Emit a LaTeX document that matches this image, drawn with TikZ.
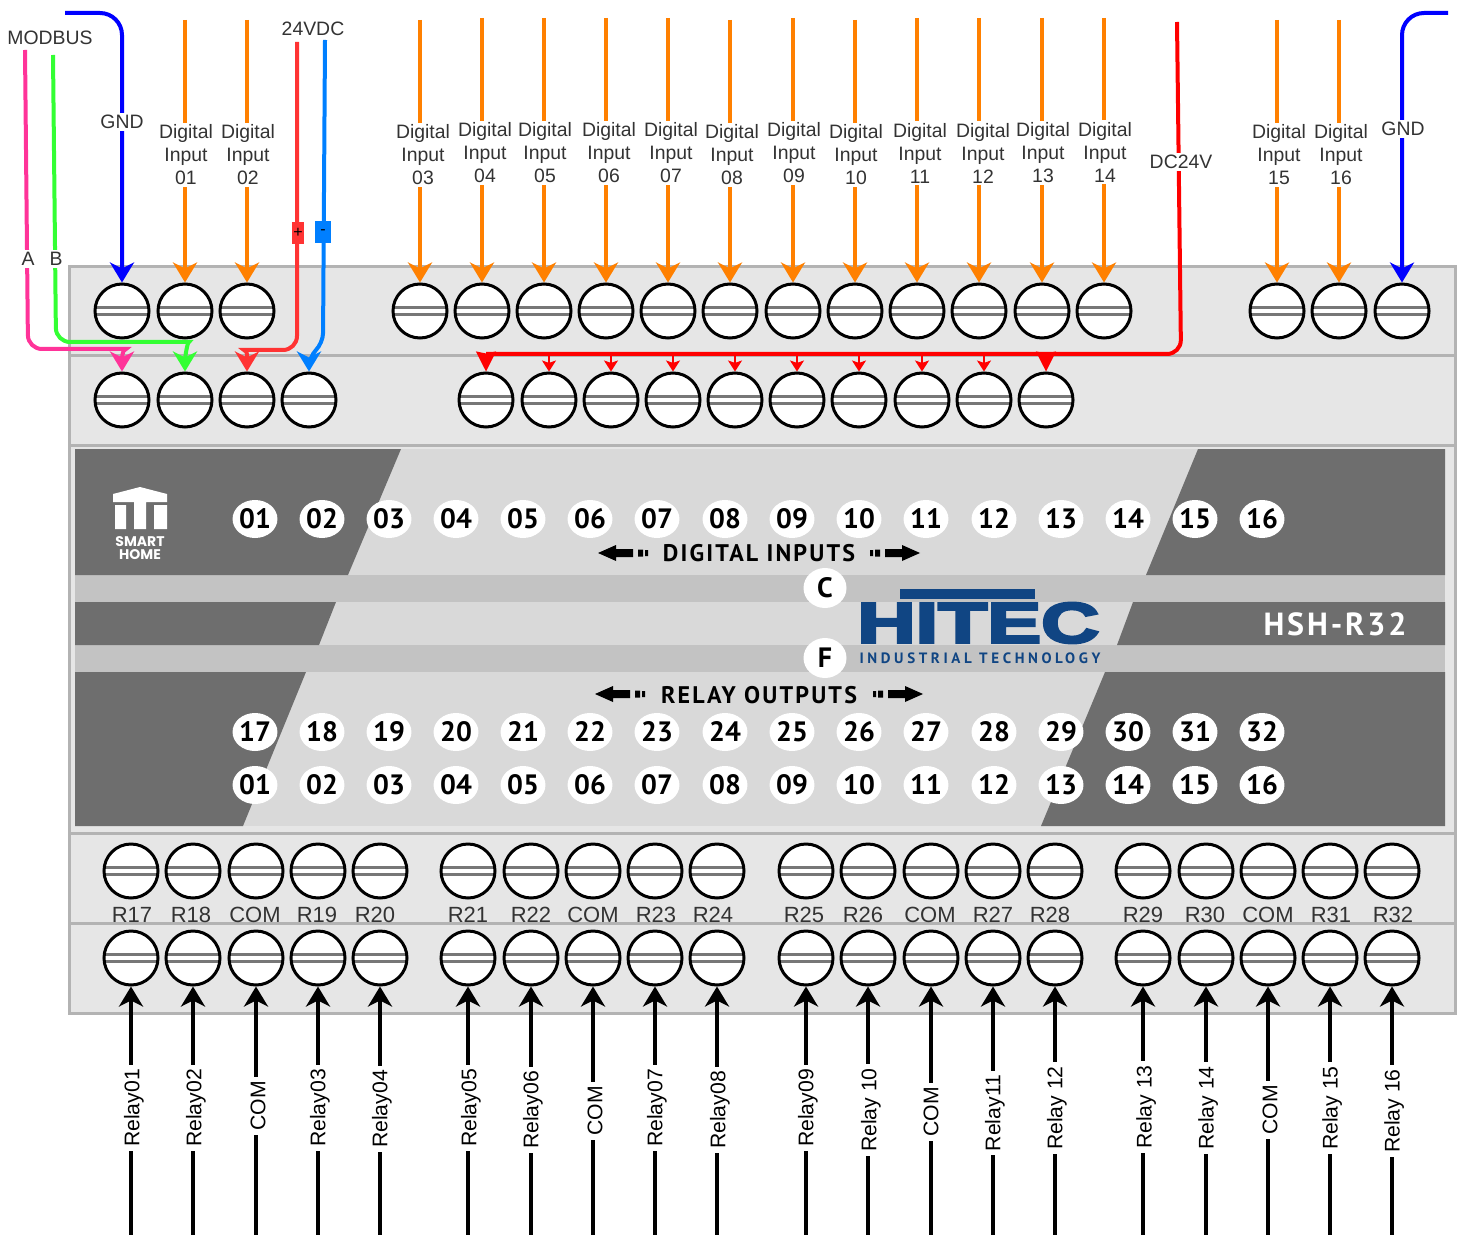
\documentclass[tikz,border=0pt]{standalone}
\usepackage{fontspec}
\setmainfont{Liberation Sans}
\newfontfamily\panelfont{PT Sans}
\newfontfamily\widefont[LetterSpace=9]{PT Sans}
\newfontfamily\subfont[LetterSpace=24]{PT Sans}
\newfontfamily\markfont{Poppins}
\newfontfamily\logofont[FakeBold=4]{Liberation Sans}
\usetikzlibrary{arrows.meta,shapes.geometric}
\definecolor{bandfill}{HTML}{E6E6E6}
\definecolor{bandline}{HTML}{B3B3B3}
\definecolor{panellight}{HTML}{D9D9D9}
\definecolor{paneldark}{HTML}{6E6E6E}
\definecolor{panelstrip}{HTML}{C3C3C3}
\definecolor{labelgray}{HTML}{333333}
\definecolor{slotgray}{HTML}{777777}
\definecolor{wireorange}{HTML}{FF8000}
\definecolor{wirepink}{HTML}{FF3399}
\definecolor{wiregreen}{HTML}{33FF33}
\definecolor{wirered}{HTML}{FF3333}
\definecolor{wireblue}{HTML}{007FFF}
\definecolor{logoblue}{HTML}{104583}
\tikzset{
  band/.style={draw=bandline,fill=bandfill,line width=1.5pt},
  screwnode/.style={circle,draw=black,fill=white,line width=1.5pt,minimum size=27pt,inner sep=0pt,
    path picture={
      \draw[slotgray,line width=1.2pt] ([yshift=1.8pt]path picture bounding box.west) -- ([yshift=1.8pt]path picture bounding box.east);
      \draw[slotgray,line width=1.2pt] ([yshift=-1.8pt]path picture bounding box.west) -- ([yshift=-1.8pt]path picture bounding box.east);
    }},
  numdot/.style={ellipse,fill=white,text=black,minimum width=21pt,minimum height=19pt,inner sep=0pt,text height=9.6pt,text depth=0pt,font=\panelfont\fontsize{14}{15}\selectfont\bfseries},
  wire/.style={line width=2pt,-{Stealth[length=10pt,width=12pt,inset=3pt]}},
  smalltip/.style={line width=0.7pt,-{Stealth[length=5.5pt,width=7pt,inset=1.2pt]}},
  bigtip/.style={line width=0.7pt,-{Stealth[length=10pt,width=10pt,inset=1pt]}},
  wirelabel/.style={fill=white,text=labelgray,align=center,inner sep=1pt,yshift=-0.5pt,font=\fontsize{9.7}{11.5}\selectfont},
  relaylabel/.style={fill=white,text=black,rotate=90,inner xsep=2pt,inner ysep=0.5pt,font=\fontsize{10.6}{11}\selectfont},
  termlabel/.style={text=labelgray,inner sep=0pt,font=\fontsize{11}{12}\selectfont},
}
\newcommand{\panelarrow}[3]{
  \fill[shift={(#1,#2)},xscale=#3,black] (0,0) -- (18,-8) -- (18,-4) -- (35,-4) -- (35,4) -- (18,4) -- (18,8) -- cycle
    (40,-3.5) rectangle (45,3.5) (47,-3) rectangle (50,3);
}
\begin{document}
\begin{tikzpicture}[x=0.5pt,y=-0.5pt]
  \useasboundingbox (0,0) rectangle (1460,1235);
  % housing
  \draw[band] (69,267) rectangle (1455,356);
  \draw[band] (69,356) rectangle (1455,445);
  \draw[band] (69,445) rectangle (1455,833);
  \draw[band] (69,833) rectangle (1455,923);
  \draw[band] (69,923) rectangle (1455,1013);
  % front panel
  \fill[panellight] (75,449) rectangle (1445,826);
  \fill[panelstrip] (75,575) rectangle (1445,602);
  \fill[panelstrip] (75,645) rectangle (1445,672);
  \fill[paneldark] (75,449) -- (401,449) -- (348,575) -- (75,575) -- cycle;
  \fill[paneldark] (1198,449) -- (1445,449) -- (1445,575) -- (1146,575) -- cycle;
  \fill[paneldark] (75,602) -- (336,602) -- (319,645) -- (75,645) -- cycle;
  \fill[paneldark] (1133,602) -- (1445,602) -- (1445,645) -- (1117,645) -- cycle;
  \fill[paneldark] (75,672) -- (306,672) -- (243,826) -- (75,826) -- cycle;
  \fill[paneldark] (1105,672) -- (1445,672) -- (1445,826) -- (1041,826) -- cycle;
  % smart home mark
  \fill[white] (113,494) -- (140,487) -- (167,494) -- (167,502) -- (146,502) -- (146,529) -- (134,529) -- (134,502) -- (113,502) -- cycle;
  \fill[white] (115,505) rectangle (126,529) (154,505) rectangle (167,529);
  \node[text=white,align=center,inner sep=0pt,font=\markfont\fontsize{7}{6.6}\selectfont\bfseries] (smarthome) at (140,548) {SMART\\HOME};
  % numbers
  \foreach \x/\t in {255/01,322/02,389/03,456/04,523/05,590/06,657/07,725/08,792/09,859/10,926/11,994/12,1061/13,1128/14,1195/15,1262/16}
    \node[numdot] (di\t) at (\x,519) {\t};
  \foreach \x/\t in {255/17,322/18,389/19,456/20,523/21,590/22,657/23,725/24,792/25,859/26,926/27,994/28,1061/29,1128/30,1195/31,1262/32}
    \node[numdot] (ra\t) at (\x,732) {\t};
  \foreach \x/\t in {255/01,322/02,389/03,456/04,523/05,590/06,657/07,725/08,792/09,859/10,926/11,994/12,1061/13,1128/14,1195/15,1262/16}
    \node[numdot] (rb\t) at (\x,785) {\t};
  \node[numdot,minimum width=21.5pt,minimum height=20pt] (ledc) at (825,588) {C};
  \node[numdot,minimum width=21.5pt,minimum height=20pt] (ledf) at (825,658) {F};
  \node[inner sep=0pt,font=\widefont\fontsize{12}{13}\selectfont\bfseries] (diglabel) at (759,553) {DIGITAL INPUTS};
  \node[inner sep=0pt,font=\widefont\fontsize{12}{13}\selectfont\bfseries] (rellabel) at (759,695) {RELAY OUTPUTS};
  \panelarrow{598}{553}{1}
  \panelarrow{920}{553}{-1}
  \panelarrow{595}{694}{1}
  \panelarrow{923}{694}{-1}
  \node[text=white,inner sep=0pt,font=\widefont\fontsize{16}{17}\selectfont\bfseries] (model) at (1335,624) {HSH-R32};
  % maker logo
  \fill[logoblue] (900,589) rectangle (1035,599);
  \node[text=logoblue,inner sep=0pt,anchor=west] (hitec) at (857,623) {\resizebox{121pt}{20pt}{\logofont\bfseries HITEC}};
  \node[text=logoblue,inner sep=0pt,font=\subfont\fontsize{7.5}{8}\selectfont\bfseries] (hitecsub) at (980,658) {INDUSTRIAL TECHNOLOGY};
  % terminals
  \foreach \x [count=\i] in {122,185,247,420,482,544,606,668,730,793,855,917,979,1042,1104,1277,1339,1402}
    \node[screwnode] (ta\i) at (\x,311) {};
  \foreach \x [count=\i] in {122,185,247,309,486,549,611,673,735,797,859,922,984,1046}
    \node[screwnode] (tb\i) at (\x,400) {};
  \foreach \x [count=\i] in {131,193,256,318,380,468,531,593,655,717,806,868,931,993,1055,1143,1206,1268,1330,1392} {
    \node[screwnode] (tc\i) at (\x,871) {};
    \node[screwnode] (td\i) at (\x,958) {};
  }
  % digital inputs
  \foreach \i/\t/\ty/\lx/\ly in {2/01/20/186/154,3/02/20/248/154,4/03/20/423/154,5/04/18/485/152,6/05/18/545/152,7/06/18/609/152,8/07/18/671/152,9/08/20/732/154,10/09/18/794/152,11/10/20/856/154,12/11/18/920/152,13/12/18/983/152,14/13/18/1043/152,15/14/18/1105/151,16/15/20/1279/154,17/16/20/1341/154} {
    \coordinate (in\t) at (ta\i.north |- 0,\ty);
    \draw[wire,wireorange] (in\t) -- (ta\i.north);
    \node[wirelabel] (inlabel\t) at (\lx,\ly) {Digital\\Input\\\t};
  }
  % ground
  \coordinate (gnda) at (65,13);
  \coordinate (gndb) at (1448,13);
  \draw[wire,blue,rounded corners=11pt] (gnda) -- (122,13) -- (ta1.north);
  \draw[wire,blue,rounded corners=11pt] (gndb) -- (1402,13) -- (ta18.north);
  \node[wirelabel] (gndlabela) at (122,121) {GND};
  \node[wirelabel] (gndlabelb) at (1403,128) {GND};
  % modbus and supply
  \coordinate (moda) at (25,50);
  \coordinate (modb) at (53,55);
  \coordinate (supp) at (297,42);
  \coordinate (supm) at (325,40);
  \draw[wire,wirepink,rounded corners=7pt] (moda) -- (28,349) -- (112,349) to[out=0,in=90] (tb1.north);
  \draw[wire,wiregreen,rounded corners=7pt] (modb) -- (56,342) -- (175,342) to[out=0,in=90] (tb2.north);
  \draw[wire,wirered,rounded corners=7pt] (supp) -- (297,350) -- (258,350) to[out=180,in=90] (tb3.north);
  \draw[wire,wireblue,rounded corners=5pt] (supm) -- (323,343) -- (309,357) -- (tb4.north);
  \node[wirelabel] (modlabel) at (50,37) {MODBUS};
  \node[wirelabel] (alabel) at (28,258) {A};
  \node[wirelabel] (blabel) at (56,258) {B};
  \node[wirelabel] (suplabel) at (313,28) {24VDC};
  \node[fill=wirered,text=black,minimum width=6pt,minimum height=11pt,inner sep=0pt,font=\fontsize{8}{8}\selectfont] (plus) at (298,233) {+};
  \node[fill=wireblue,text=black,minimum width=8pt,minimum height=11pt,inner sep=0pt,font=\fontsize{8}{8}\selectfont] (minus) at (323,232) {-};
  % input common
  \coordinate (dctop) at (1177,22);
  \coordinate (dcbus) at (486,354);
  \coordinate (dcend) at (1046,354);
  \draw[line width=2pt,red,rounded corners=7pt] (dctop) -- (1181,354) -- (dcbus);
  \draw[bigtip,red] (dcbus) -- (tb5.north);
  \draw[bigtip,red] (dcend) -- (tb14.north);
  \foreach \i/\x in {6/549,7/611,8/673,9/735,10/797,11/859,12/922,13/984} {
    \coordinate (dcdrop\i) at (\x,354);
    \draw[smalltip,red] (dcdrop\i) -- (tb\i.north);
  }
  \node[wirelabel] (dclabel) at (1181,161) {DC24V};
  % relay outputs
  \foreach \i/\t/\lx/\ly in {1/R17/132/915,2/R18/191/915,3/COM/255/915,4/R19/317/915,5/R20/375/915,6/R21/468/915,7/R22/531/915,8/COM/593/915,9/R23/656/915,10/R24/713/915,11/R25/804/915,12/R26/863/915,13/COM/930/915,14/R27/993/915,15/R28/1050/915,16/R29/1143/915,17/R30/1205/915,18/COM/1268/915,19/R31/1331/915,20/R32/1393/915}
    \node[termlabel] (term\i) at (\lx,\ly) {\t};
  \foreach \i/\t/\lx/\ly in {1/Relay01/134/1108,2/Relay02/196/1108,3/COM/258/1106,4/Relay03/320/1108,5/Relay04/382/1109,6/Relay05/471/1108,7/Relay06/533/1110,8/COM/595/1111,9/Relay07/657/1108,10/Relay08/720/1110,11/Relay09/808/1108,12/Relay 10/871/1110,13/COM/931/1112,14/Relay11/995/1113,15/Relay 12/1057/1108,16/Relay 13/1146/1107,17/Relay 14/1208/1108,18/COM/1270/1110,19/Relay 15/1332/1108,20/Relay 16/1394/1111} {
    \coordinate (out\i) at (td\i.south |- 0,1235);
    \draw[wire,black] (out\i) -- (td\i.south);
    \node[relaylabel] (outlabel\i) at (\lx,\ly) {\t};
  }
\end{tikzpicture}
\end{document}
